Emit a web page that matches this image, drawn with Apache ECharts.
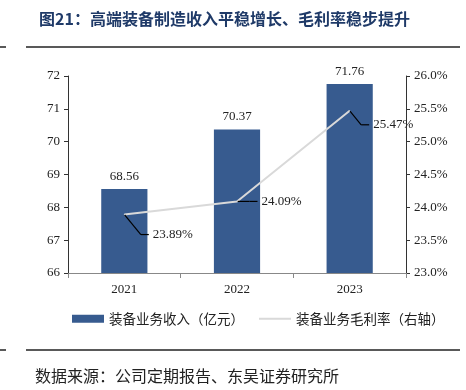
<!DOCTYPE html>
<html>
<head>
<meta charset="utf-8">
<script src="https://cdn.jsdelivr.net/npm/echarts@6/dist/echarts.min.js"></script>
<style>
  html, body { margin: 0; padding: 0; background: #fff; }
  #chart { width: 466px; height: 390px; }
</style>
</head>
<body>
<div id="chart"></div>
<script>
// 数据
let years = ['2021', '2022', '2023'];
let income = [68.56, 70.37, 71.76];          // 装备业务收入（亿元）
let margin = [23.89, 24.09, 25.47];          // 装备业务毛利率（%）
// 标签引线偏移 [dx, dy]
let labelShift = [[16, 20], [12, 0], [11, 14]];

let serif = '"Liberation Serif", "Times New Roman", serif';
let cjk = '"Noto Sans CJK SC", sans-serif';

let myChart = echarts.init(document.getElementById('chart'));

let option = {
    animation: false,
    title: {
        text: '图21：高端装备制造收入平稳增长、毛利率稳步提升',
        left: 34,
        top: 6,
        textStyle: {
            fontFamily: cjk,
            fontSize: 16,
            fontWeight: 'bold',
            color: '#1f3a68'
        }
    },
    graphic: [
        // 标题下横线
        { type: 'line', shape: { x1: 0, y1: 47, x2: 6, y2: 47 }, style: { stroke: '#222', lineWidth: 1.5 } },
        { type: 'line', shape: { x1: 26, y1: 47, x2: 460, y2: 47 }, style: { stroke: '#222', lineWidth: 1.5 } },
        // 来源上横线
        { type: 'line', shape: { x1: 0, y1: 350, x2: 6, y2: 350 }, style: { stroke: '#222', lineWidth: 1.5 } },
        { type: 'line', shape: { x1: 26, y1: 350, x2: 460, y2: 350 }, style: { stroke: '#222', lineWidth: 1.5 } },
        {
            type: 'text', left: 35, top: 368,
            style: { text: '数据来源：公司定期报告、东吴证券研究所', font: '16px ' + cjk, fill: '#222' }
        }
    ],
    legend: {
        left: 72,
        top: 312,
        padding: 0,
        itemWidth: 32,
        itemHeight: 8,
        itemGap: 14,
        textStyle: { fontFamily: cjk, fontSize: 13.5, color: '#222' },
        data: [
            { name: '装备业务收入（亿元）', icon: 'rect' },
            { name: '装备业务毛利率（右轴）', itemStyle: { opacity: 0 } }
        ]
    },
    grid: { left: 68, right: 60, top: 76, bottom: 117 },
    xAxis: {
        type: 'category',
        data: years,
        axisLine: { lineStyle: { color: '#888', width: 1 } },
        axisTick: { show: true, alignWithLabel: false, length: 5, lineStyle: { color: '#888' } },
        axisLabel: { fontFamily: serif, fontSize: 13, color: '#222', margin: 10 }
    },
    yAxis: [
        {
            type: 'value',
            min: 66, max: 72, interval: 1,
            axisLine: { show: true, lineStyle: { color: '#333' } },
            axisTick: { show: true, length: 4, lineStyle: { color: '#333' } },
            axisLabel: { fontFamily: serif, fontSize: 13, color: '#222', margin: 8 },
            splitLine: { show: false }
        },
        {
            type: 'value',
            min: 23, max: 26, interval: 0.5,
            axisLine: { show: true, lineStyle: { color: '#333' } },
            axisTick: { show: true, length: 4, lineStyle: { color: '#333' } },
            axisLabel: {
                fontFamily: serif, fontSize: 13, color: '#222', margin: 8,
                formatter: v => v.toFixed(1) + '%'
            },
            splitLine: { show: false }
        }
    ],
    series: [
        {
            name: '装备业务收入（亿元）',
            type: 'bar',
            data: income,
            barWidth: '41%',
            itemStyle: { color: '#375b8f' },
            label: {
                show: true,
                position: 'top',
                distance: 6,
                fontFamily: serif,
                fontSize: 13,
                color: '#222',
                formatter: p => p.value.toFixed(2)
            }
        },
        {
            name: '装备业务毛利率（右轴）',
            type: 'line',
            yAxisIndex: 1,
            data: margin,
            symbol: 'circle',
            symbolSize: 1,
            lineStyle: { color: '#d9d9d9', width: 2 },
            itemStyle: { color: '#d9d9d9' },
            label: {
                show: true,
                position: 'right',
                distance: 0,
                fontFamily: serif,
                fontSize: 13,
                color: '#222',
                // 引线末端的水平短线 + 数值
                formatter: p => '{l|}{v|' + p.value.toFixed(2) + '%}',
                rich: {
                    l: { width: 8, height: 1.2, backgroundColor: '#000' },
                    v: { fontFamily: serif, fontSize: 13, color: '#222', padding: [0, 0, 0, 4] }
                }
            },
            labelLine: {
                show: true,
                minTurnAngle: 0,
                lineStyle: { color: '#000', width: 1.2 }
            },
            labelLayout: p => ({
                dx: labelShift[p.dataIndex][0],
                dy: labelShift[p.dataIndex][1]
            })
        }
    ]
};

myChart.setOption(option);
</script>
</body>
</html>
